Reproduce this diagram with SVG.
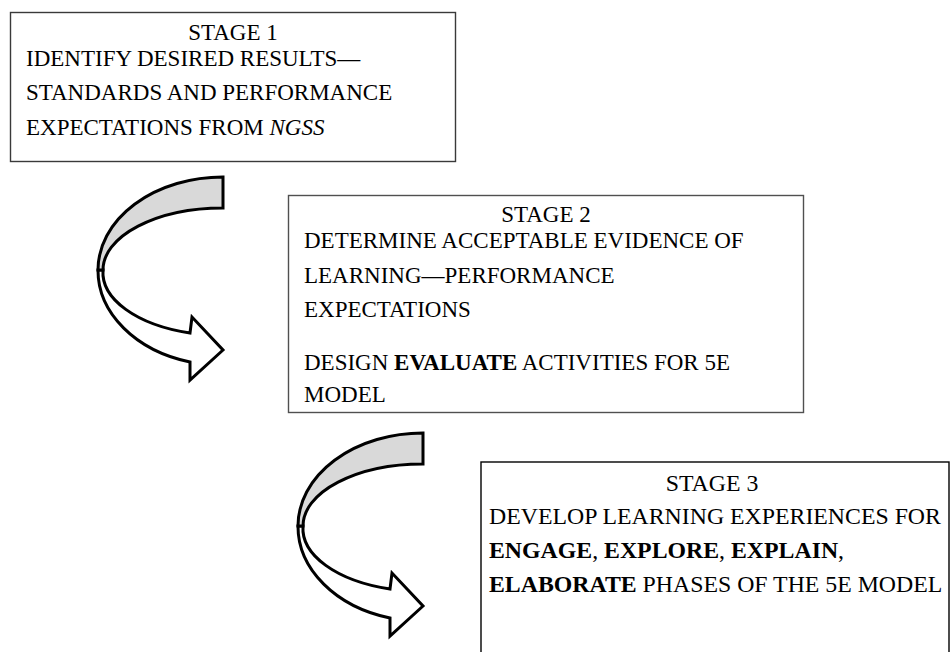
<svg xmlns="http://www.w3.org/2000/svg" xmlns:xlink="http://www.w3.org/1999/xlink" width="951" height="652" viewBox="0 0 951 652">
  <style>
    .box { fill: #ffffff; stroke: #3a3a3a; stroke-width: 1.4; }
    .box2 { stroke: #505050; }
    .box3 { stroke: #000000; }
    .txt { font-family: "Liberation Serif", "Times New Roman", serif; font-size: 23px; fill: #000000; }
    .big { font-size: 23.8px; }
    .mid { text-anchor: middle; }
    .b { font-weight: bold; }
    .i { font-style: italic; }
    .band-back { fill: #d9d9d9; stroke: #000000; stroke-width: 3; stroke-linejoin: miter; }
    .band-front { fill: #ffffff; stroke: #000000; stroke-width: 3; stroke-linejoin: miter; }
  </style>
  <defs>
    <!-- curved right arrow: grey back band on top, white front band ending in a head -->
    <g id="curved-arrow">
      <path class="band-front" d="M 103,270 A 120,63 0 0 0 190,333 L 192,317 L 223,350 L 190,380 L 190,362 A 125,95 0 0 1 98,270 Z"/>
      <path class="band-back" d="M 223,177 A 125,93 0 0 0 98,270 L 103,270 A 120,62 0 0 1 223,208 Z"/>
    </g>
  </defs>

  <rect width="951" height="652" fill="#ffffff"/>

  <g id="connectors">
    <use id="arrow-1-2" xlink:href="#curved-arrow" href="#curved-arrow"/>
    <use id="arrow-2-3" xlink:href="#curved-arrow" href="#curved-arrow" transform="translate(200,256)"/>
  </g>

  <g id="stage1">
    <rect class="box" x="10.5" y="12.5" width="445" height="149"/>
    <text class="txt mid" x="233" y="40">STAGE 1</text>
    <text class="txt" x="26" y="65.5">IDENTIFY DESIRED RESULTS—</text>
    <text class="txt" x="26" y="100">STANDARDS AND PERFORMANCE</text>
    <text class="txt" x="26" y="135">EXPECTATIONS FROM <tspan class="i">NGSS</tspan></text>
  </g>

  <g id="stage2">
    <rect class="box box2" x="288.5" y="195.5" width="515" height="217"/>
    <text class="txt mid" x="546" y="222">STAGE 2</text>
    <text class="txt" x="304" y="248">DETERMINE ACCEPTABLE EVIDENCE OF</text>
    <text class="txt" x="304" y="283">LEARNING—PERFORMANCE</text>
    <text class="txt" x="304" y="317">EXPECTATIONS</text>
    <text class="txt" x="304" y="370">DESIGN <tspan class="b">EVALUATE</tspan> ACTIVITIES FOR 5E</text>
    <text class="txt" x="304" y="402">MODEL</text>
  </g>

  <g id="stage3">
    <rect class="box box3" x="481" y="462" width="468" height="200"/>
    <text class="txt big mid" x="712" y="491">STAGE 3</text>
    <text class="txt big" x="489" y="524">DEVELOP LEARNING EXPERIENCES FOR</text>
    <text class="txt big" x="489" y="558"><tspan class="b">ENGAGE</tspan>, <tspan class="b">EXPLORE</tspan>, <tspan class="b">EXPLAIN</tspan>,</text>
    <text class="txt big" x="489" y="592"><tspan class="b">ELABORATE</tspan> PHASES OF THE 5E MODEL</text>
  </g>
</svg>
